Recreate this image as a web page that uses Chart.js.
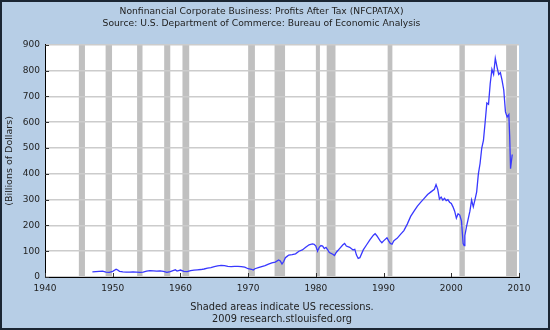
<!DOCTYPE html>
<html>
<head>
<meta charset="utf-8">
<script src="https://cdn.jsdelivr.net/npm/chart.js@4/dist/chart.umd.min.js"></script>
<style>
  html, body { margin: 0; padding: 0; background: #b7cee6; }
  #wrap { width: 550px; height: 330px; }
</style>
</head>
<body>
<div id="wrap"><canvas id="profitChart" width="550" height="330"></canvas></div>
<script>
// quarterly-ish readings, billions of dollars
const years = [
  1947.0, 1947.5, 1948.0, 1948.5, 1949.0, 1949.5, 1950.0, 1950.5, 1950.75, 1951.0,
  1951.5, 1952.0, 1952.5, 1953.0, 1953.5, 1954.0, 1954.5, 1955.0, 1955.5, 1956.0,
  1956.5, 1957.0, 1957.5, 1958.0, 1958.5, 1959.0, 1959.25, 1959.5, 1960.0, 1960.5,
  1961.0, 1961.5, 1962.0, 1962.5, 1963.0, 1963.5, 1964.0, 1964.5, 1965.0, 1965.5,
  1966.0, 1966.5, 1967.0, 1967.5, 1968.0, 1968.5, 1969.0, 1969.5, 1970.0, 1970.5,
  1970.75, 1971.0, 1971.5, 1972.0, 1972.5, 1973.0, 1973.5, 1974.0, 1974.5, 1974.75,
  1975.0, 1975.25, 1975.5, 1975.75, 1976.0, 1976.5, 1977.0, 1977.5, 1978.0, 1978.5,
  1979.0, 1979.5, 1979.75, 1980.0, 1980.25, 1980.5, 1980.75, 1981.0, 1981.25, 1981.5,
  1981.75, 1982.0, 1982.5, 1982.75, 1983.0, 1983.5, 1984.0, 1984.25, 1984.5, 1985.0,
  1985.5, 1985.75, 1986.0, 1986.25, 1986.5, 1987.0, 1987.5, 1988.0, 1988.5, 1988.75,
  1989.0, 1989.5, 1989.75, 1990.0, 1990.5, 1990.75, 1991.0, 1991.25, 1991.5, 1991.75,
  1992.0, 1992.5, 1993.0, 1993.5, 1994.0, 1994.5, 1995.0, 1995.5, 1996.0, 1996.5,
  1997.0, 1997.5, 1997.75, 1998.0, 1998.25, 1998.5, 1998.75, 1999.0, 1999.25, 1999.5,
  1999.75, 2000.0, 2000.25, 2000.5, 2000.75, 2001.0, 2001.25, 2001.5, 2001.75, 2001.9,
  2002.0, 2002.25, 2002.5, 2002.75, 2003.0, 2003.25, 2003.5, 2003.75, 2004.0, 2004.25,
  2004.5, 2004.75, 2005.0, 2005.25, 2005.5, 2005.75, 2006.0, 2006.25, 2006.5, 2006.75,
  2007.0, 2007.25, 2007.5, 2007.75, 2008.0, 2008.25, 2008.5, 2008.625, 2008.75, 2009.0
];
const profits = [
  20, 21, 22, 23, 19, 18, 22, 30, 27, 22,
  20, 19, 19, 20, 19, 18, 19, 23, 25, 24,
  23, 24, 22, 18, 21, 26, 28, 23, 27, 22,
  21, 25, 27, 28, 29, 31, 34, 36, 40, 43,
  45, 44, 41, 40, 41, 41, 40, 38, 32, 30,
  27, 32, 36, 40, 44, 50, 55, 58, 66, 62,
  50, 60, 75, 80, 85, 87, 90, 100, 105, 115,
  125, 128, 127, 120, 100, 115, 122, 120, 110, 115,
  105, 95, 88, 83, 95, 110, 125, 130, 120, 115,
  105, 107, 85, 72, 75, 105, 125, 145, 162, 168,
  160, 140, 133, 140, 152, 140, 130, 127, 140, 145,
  150, 165, 180, 205, 235, 255, 275, 290, 305, 320,
  330, 340, 358, 340, 302, 310, 298, 305, 296, 300,
  290, 285, 272, 255, 228, 245, 240, 218, 130, 122,
  160, 195, 225, 255, 298, 272, 300, 330, 400, 440,
  500, 530, 600, 675, 670, 750, 805, 785, 848, 815,
  785, 792, 762, 725, 640, 620, 630, 545, 420, 475
];

// recession shading (start / end, decimal years)
const recStart = [1945.0, 1948.95, 1953.6, 1957.6, 1960.3, 1970.0, 1973.9, 1980.0, 1981.6, 1990.6, 2001.2, 2008.1];
const recEnd   = [1945.9, 1949.9, 1954.4, 1958.5, 1961.3, 1971.0, 1975.45, 1980.6, 1982.9, 1991.3, 2002.0, 2009.7];

const yTicks = [0, 100, 200, 300, 400, 500, 600, 700, 800, 900];
const xTicks = [1940, 1950, 1960, 1970, 1980, 1990, 2000, 2010];

const points = years.map((y, i) => ({ x: y, y: profits[i] }));

const fontFam = "'DejaVu Sans', Verdana, sans-serif";

const fredLook = {
  id: 'fredLook',
  beforeDraw(chart) {
    const { ctx, chartArea: a, scales } = chart;
    ctx.save();
    ctx.fillStyle = '#ffffff';
    ctx.fillRect(a.left, a.top, a.right - a.left, a.bottom - a.top);
    ctx.fillStyle = '#c0c0c0';
    for (let i = 0; i < recStart.length; i++) {
      let x1 = Math.max(scales.x.getPixelForValue(recStart[i]), a.left);
      let x2 = Math.min(scales.x.getPixelForValue(recEnd[i]), a.right);
      ctx.fillRect(x1, a.top, x2 - x1, a.bottom - a.top);
    }
    ctx.restore();
  },
  afterDraw(chart) {
    const { ctx, chartArea: a, scales } = chart;
    ctx.save();
    // short inward tick marks
    ctx.strokeStyle = '#333333';
    ctx.lineWidth = 1;
    ctx.beginPath();
    yTicks.forEach(v => {
      const py = Math.round(scales.y.getPixelForValue(v)) + 0.5;
      ctx.moveTo(a.left, py);
      ctx.lineTo(a.left + 4, py);
    });
    xTicks.forEach(v => {
      const px = Math.round(scales.x.getPixelForValue(v)) + 0.5;
      ctx.moveTo(px, a.bottom);
      ctx.lineTo(px, a.bottom - 4);
    });
    ctx.stroke();
    // outer frame
    ctx.strokeStyle = '#1b2633';
    ctx.lineWidth = 2;
    ctx.strokeRect(1, 1, chart.width - 2, chart.height - 2);
    ctx.restore();
  }
};

const chart = new Chart(document.getElementById('profitChart'), {
  type: 'line',
  data: {
    datasets: [{
      data: points,
      borderColor: '#3838ff',
      borderWidth: 1.3,
      pointRadius: 0,
      fill: false,
      tension: 0
    }]
  },
  options: {
    responsive: false,
    animation: false,
    layout: { padding: { left: 4, right: 31, top: 4, bottom: 4 } },
    plugins: {
      legend: { display: false },
      tooltip: { enabled: false },
      title: {
        display: true,
        text: ['Nonfinancial Corporate Business: Profits After Tax (NFCPATAX)',
               'Source: U.S. Department of Commerce: Bureau of Economic Analysis'],
        color: '#222222',
        font: { family: fontFam, size: 9.2, weight: 'normal', lineHeight: 1.35 },
        padding: { top: 1, bottom: 15 }
      }
    },
    scales: {
      x: {
        type: 'linear',
        min: 1940,
        max: 2010,
        afterBuildTicks: s => { s.ticks = xTicks.map(v => ({ value: v })); },
        ticks: {
          color: '#222222',
          font: { family: fontFam, size: 9 },
          padding: 6,
          maxRotation: 0,
          callback: v => String(v)
        },
        grid: { display: false, drawTicks: false },
        border: { display: true, color: '#000000', width: 1 },
        title: {
          display: true,
          text: ['Shaded areas indicate US recessions.', '2009 research.stlouisfed.org'],
          color: '#222222',
          font: { family: fontFam, size: 9.8, lineHeight: 1.25 },
          padding: { top: 6, bottom: 0 }
        },
        afterFit: s => { s.height = 49; }
      },
      y: {
        min: 0,
        max: 900,
        afterBuildTicks: s => { s.ticks = yTicks.map(v => ({ value: v })); },
        ticks: {
          color: '#222222',
          font: { family: fontFam, size: 9 },
          padding: 5
        },
        grid: { color: '#cccccc', lineWidth: 1.5, drawTicks: false },
        border: { display: true, color: '#000000', width: 1 },
        title: {
          display: true,
          text: '(Billions of Dollars)',
          color: '#222222',
          font: { family: fontFam, size: 9.5 },
          padding: { top: 0, bottom: 0 }
        },
        afterFit: s => { s.width = 41; }
      }
    }
  },
  plugins: [fredLook]
});
</script>
</body>
</html>
